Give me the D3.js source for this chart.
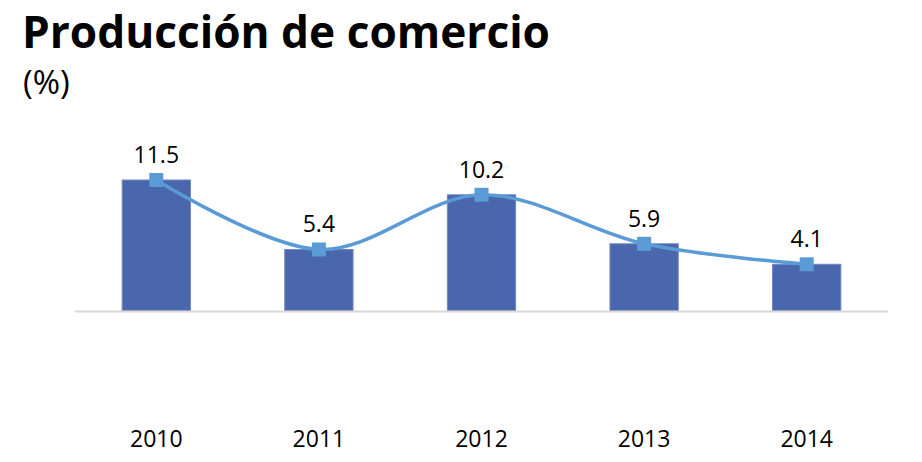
<!DOCTYPE html>
<html>
<head>
<meta charset="utf-8">
<script src="https://cdn.jsdelivr.net/npm/d3@7"></script>
<style>
  body { margin: 0; background: #fff; }
  svg { display: block; font-family: "Open Sans", "Noto Sans", sans-serif; }
</style>
</head>
<body>
<svg width="922" height="462"></svg>
<script>
var width = 922;
var height = 462;
var margin = {left: 75, right: 34, top: 130, bottom: 151};

// data
var years  = ["2010", "2011", "2012", "2013", "2014"];
var values = [11.5, 5.4, 10.2, 5.9, 4.1];

var svg = d3.select("svg");

var x = d3.scaleBand().domain(years).range([margin.left, width - margin.right]).paddingInner(0.58).paddingOuter(0.29);
var y = d3.scaleLinear().domain([0, 11.5]).range([height - margin.bottom, 180]);

// title
svg.append("text")
  .attr("x", 22).attr("y", 48)
  .attr("font-size", 45).attr("font-weight", "bold")
  .attr("textLength", 528).attr("lengthAdjust", "spacingAndGlyphs")
  .attr("fill", "#000")
  .text("Producción de comercio");

svg.append("text")
  .attr("x", 23).attr("y", 94)
  .attr("font-size", 33)
  .attr("fill", "#000")
  .text("(%)");

// bars
svg.selectAll("rect.bar")
  .data(values)
  .enter()
  .append("rect")
  .attr("class", "bar")
  .attr("x", function(d, i) { return x(years[i]); })
  .attr("y", function(d) { return y(d); })
  .attr("width", x.bandwidth())
  .attr("height", function(d) { return y(0) - y(d); })
  .attr("fill", "#4a66ac")
  .attr("stroke", "#6f88c2")
  .attr("stroke-width", 1);

// baseline
svg.append("line")
  .attr("x1", margin.left).attr("x2", width - margin.right)
  .attr("y1", y(0) + 0.5).attr("y2", y(0) + 0.5)
  .attr("stroke", "#d9d9d9").attr("stroke-width", 2);

// smoothed line
var line = d3.line()
  .x(function(d, i) { return x(years[i]) + x.bandwidth() / 2; })
  .y(function(d) { return y(d); })
  .curve(d3.curveCardinal.tension(0));

svg.append("path")
  .datum(values)
  .attr("d", line)
  .attr("fill", "none")
  .attr("stroke", "#5b9bd5")
  .attr("stroke-width", 3.5);

// markers
svg.selectAll("rect.marker")
  .data(values)
  .enter()
  .append("rect")
  .attr("class", "marker")
  .attr("x", function(d, i) { return x(years[i]) + x.bandwidth() / 2 - 7; })
  .attr("y", function(d) { return y(d) - 7; })
  .attr("width", 14).attr("height", 14)
  .attr("fill", "#5b9bd5");

// value labels
svg.selectAll("text.val")
  .data(values)
  .enter()
  .append("text")
  .attr("class", "val")
  .attr("x", function(d, i) { return x(years[i]) + x.bandwidth() / 2; })
  .attr("y", function(d) { return y(d) - 17; })
  .attr("text-anchor", "middle")
  .attr("font-size", 23)
  .attr("fill", "#000")
  .text(function(d) { return d.toFixed(1); });

// year labels
svg.selectAll("text.year")
  .data(years)
  .enter()
  .append("text")
  .attr("class", "year")
  .attr("x", function(d) { return x(d) + x.bandwidth() / 2; })
  .attr("y", 447)
  .attr("text-anchor", "middle")
  .attr("font-size", 23)
  .attr("fill", "#000")
  .text(function(d) { return d; });
</script>
</body>
</html>
